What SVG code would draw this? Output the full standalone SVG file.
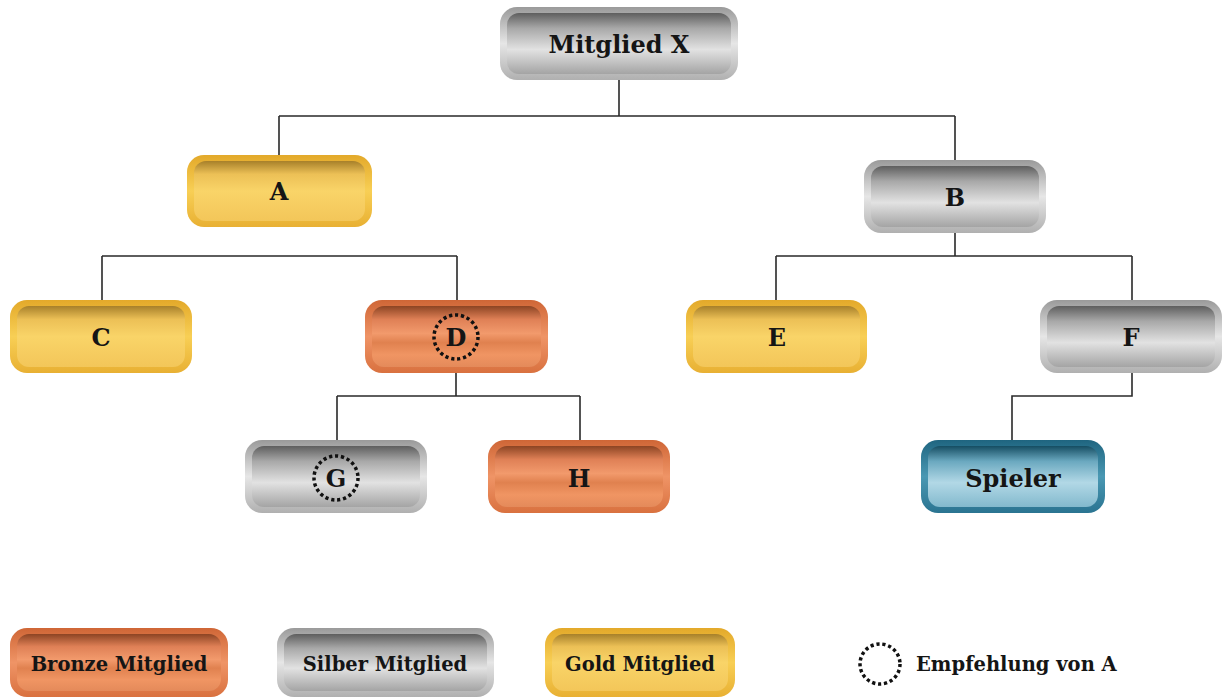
<svg xmlns="http://www.w3.org/2000/svg" width="1223" height="698" viewBox="0 0 1223 698">
<defs>
<linearGradient id="rimS" x1="0" y1="0" x2="0" y2="1"><stop offset="0" stop-color="#9a9a9a"/><stop offset="0.5" stop-color="#e6e6e6"/><stop offset="1" stop-color="#b0b0b0"/></linearGradient>
<linearGradient id="bodyS" x1="0" y1="0" x2="0" y2="1"><stop offset="0" stop-color="#5e5e5e"/><stop offset="0.25" stop-color="#a8a8a8"/><stop offset="0.6" stop-color="#e2e2e2"/><stop offset="1" stop-color="#a4a4a4"/></linearGradient>
<linearGradient id="rimG" x1="0" y1="0" x2="0" y2="1"><stop offset="0" stop-color="#e3a92a"/><stop offset="0.5" stop-color="#f8cf55"/><stop offset="1" stop-color="#e8b033"/></linearGradient>
<linearGradient id="bodyG" x1="0" y1="0" x2="0" y2="1"><stop offset="0" stop-color="#a7802a"/><stop offset="0.22" stop-color="#ecc056"/><stop offset="0.5" stop-color="#f9d468"/><stop offset="1" stop-color="#f3c659"/></linearGradient>
<linearGradient id="rimB" x1="0" y1="0" x2="0" y2="1"><stop offset="0" stop-color="#cf6636"/><stop offset="0.5" stop-color="#ef9466"/><stop offset="1" stop-color="#d9713f"/></linearGradient>
<linearGradient id="bodyB" x1="0" y1="0" x2="0" y2="1"><stop offset="0" stop-color="#8c4423"/><stop offset="0.22" stop-color="#df8056"/><stop offset="0.45" stop-color="#f29a6c"/><stop offset="0.6" stop-color="#e0814f"/><stop offset="0.8" stop-color="#f09563"/><stop offset="1" stop-color="#e48a5a"/></linearGradient>
<linearGradient id="rimP" x1="0" y1="0" x2="0" y2="1"><stop offset="0" stop-color="#1f6580"/><stop offset="0.5" stop-color="#4a98b3"/><stop offset="1" stop-color="#2a7491"/></linearGradient>
<linearGradient id="bodyP" x1="0" y1="0" x2="0" y2="1"><stop offset="0" stop-color="#154d62"/><stop offset="0.25" stop-color="#6aa8bf"/><stop offset="0.6" stop-color="#b2d8e6"/><stop offset="1" stop-color="#82b9cd"/></linearGradient>
<style>
.lbl{font-family:"DejaVu Serif","Liberation Serif",serif;font-weight:bold;font-size:24px;fill:#151515;text-anchor:middle}
.leg{font-family:"DejaVu Serif","Liberation Serif",serif;font-weight:bold;font-size:19.5px;fill:#151515;text-anchor:middle}
.ring{fill:none;stroke:#111;stroke-width:3.5;stroke-dasharray:3.2 2.8}
.conn{fill:none;stroke:#2a2a2a;stroke-width:1.6}
</style>
</defs>
<rect width="1223" height="698" fill="#ffffff"/>
<g id="connectors" class="conn">
<path d="M619,80 V116 M279,116 H955 M279,116 V155 M955,116 V160"/>
<path d="M102,256 H457 M102,256 V300 M457,256 V300"/>
<path d="M955,233 V256 M776,256 H1132 M776,256 V300 M1132,256 V300"/>
<path d="M456,373 V396 M337,396 H580 M337,396 V440 M580,396 V440"/>
<path d="M1132,373 V396 H1012 V440"/>
</g>
<g id="node-mitglied-x"><rect x="500" y="7" width="238" height="73" rx="17" fill="url(#rimS)"/><rect x="507" y="13" width="224" height="61" rx="12" fill="url(#bodyS)"/><text class="lbl" x="619" y="53">Mitglied X</text></g>
<g id="node-a"><rect x="187" y="155" width="185" height="72" rx="17" fill="url(#rimG)"/><rect x="194" y="161" width="171" height="60" rx="12" fill="url(#bodyG)"/><text class="lbl" x="279" y="200">A</text></g>
<g id="node-b"><rect x="864" y="160" width="182" height="73" rx="17" fill="url(#rimS)"/><rect x="871" y="166" width="168" height="61" rx="12" fill="url(#bodyS)"/><text class="lbl" x="955" y="206">B</text></g>
<g id="node-c"><rect x="10" y="300" width="182" height="73" rx="17" fill="url(#rimG)"/><rect x="17" y="306" width="168" height="61" rx="12" fill="url(#bodyG)"/><text class="lbl" x="101" y="346">C</text></g>
<g id="node-d"><rect x="365" y="300" width="183" height="73" rx="17" fill="url(#rimB)"/><rect x="372" y="306" width="169" height="61" rx="12" fill="url(#bodyB)"/><circle class="ring" cx="456" cy="337" r="22"/><text class="lbl" x="456" y="346">D</text></g>
<g id="node-e"><rect x="686" y="300" width="181" height="73" rx="17" fill="url(#rimG)"/><rect x="693" y="306" width="167" height="61" rx="12" fill="url(#bodyG)"/><text class="lbl" x="777" y="346">E</text></g>
<g id="node-f"><rect x="1040" y="300" width="182" height="73" rx="17" fill="url(#rimS)"/><rect x="1047" y="306" width="168" height="61" rx="12" fill="url(#bodyS)"/><text class="lbl" x="1131" y="346">F</text></g>
<g id="node-g"><rect x="245" y="440" width="182" height="73" rx="17" fill="url(#rimS)"/><rect x="252" y="446" width="168" height="61" rx="12" fill="url(#bodyS)"/><circle class="ring" cx="336" cy="478" r="22"/><text class="lbl" x="336" y="487">G</text></g>
<g id="node-h"><rect x="488" y="440" width="182" height="73" rx="17" fill="url(#rimB)"/><rect x="495" y="446" width="168" height="61" rx="12" fill="url(#bodyB)"/><text class="lbl" x="579" y="487">H</text></g>
<g id="node-spieler"><rect x="921" y="440" width="184" height="73" rx="17" fill="url(#rimP)"/><rect x="928" y="446" width="170" height="61" rx="12" fill="url(#bodyP)"/><text class="lbl" x="1013" y="487">Spieler</text></g>
<g id="legend-bronze"><rect x="10" y="628" width="218" height="69" rx="17" fill="url(#rimB)"/><rect x="17" y="634" width="204" height="57" rx="12" fill="url(#bodyB)"/><text class="leg" x="119" y="671">Bronze Mitglied</text></g>
<g id="legend-silber"><rect x="277" y="628" width="217" height="69" rx="17" fill="url(#rimS)"/><rect x="284" y="634" width="203" height="57" rx="12" fill="url(#bodyS)"/><text class="leg" x="385" y="671">Silber Mitglied</text></g>
<g id="legend-gold"><rect x="545" y="628" width="190" height="69" rx="17" fill="url(#rimG)"/><rect x="552" y="634" width="176" height="57" rx="12" fill="url(#bodyG)"/><text class="leg" x="640" y="671">Gold Mitglied</text></g>
<g id="legend-empfehlung"><circle class="ring" cx="880" cy="664" r="20"/><text class="leg" x="916" y="671" style="text-anchor:start">Empfehlung von A</text></g>
</svg>
